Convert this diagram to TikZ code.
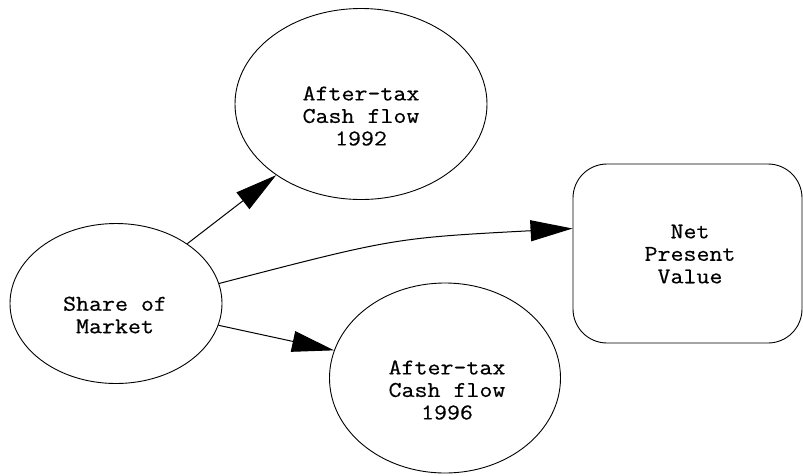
\documentclass[tikz,border=0pt]{standalone}
\usepackage{fontspec}
\newfontfamily\monofont{Latin Modern Mono}[AutoFakeBold=0.5, FakeStretch=1.12]
\usetikzlibrary{shapes.geometric,arrows.meta}

\tikzset{
  oval/.style={ellipse, draw=black, line width=0.9pt, inner sep=0pt},
  roundbox/.style={rectangle, rounded corners=34pt, draw=black, line width=0.9pt, inner sep=0pt},
  caption/.style={align=center, inner sep=0pt,
    font=\monofont\bfseries\fontsize{22.5}{22.5}\selectfont},
  link/.style={line width=1pt, -{Triangle[length=42pt, width=21pt]}}
}

\begin{document}
\begin{tikzpicture}[x=1pt, y=-1pt]
  \useasboundingbox (0,0) rectangle (803,475);

  % influence nodes
  \node[oval, minimum width=212pt, minimum height=160pt] (share) at (116,303.5) {};
  \node[caption] (sharetxt) at (115,315) {Share of\\Market};

  \node[oval, minimum width=252pt, minimum height=191pt] (cf92) at (361,104) {};
  \node[caption] (cf92txt) at (361,116) {After-tax\\Cash flow\\1992};

  \node[oval, minimum width=231pt, minimum height=190pt] (cf96) at (445,378) {};
  \node[caption] (cf96txt) at (447,390) {After-tax\\Cash flow\\1996};

  % value node
  \node[roundbox, minimum width=229pt, minimum height=179pt] (npv) at (687.5,253.5) {};
  \node[caption] (npvtxt) at (690,254) {Net\\Present\\Value};

  % arcs
  \draw[link] (share.40) -- (cf92.220);
  \draw[link] (share.11) .. controls (394,238) .. ([yshift=25pt]npv.west);
  \draw[link] (share.-12) -- (cf96.166);
\end{tikzpicture}
\end{document}
